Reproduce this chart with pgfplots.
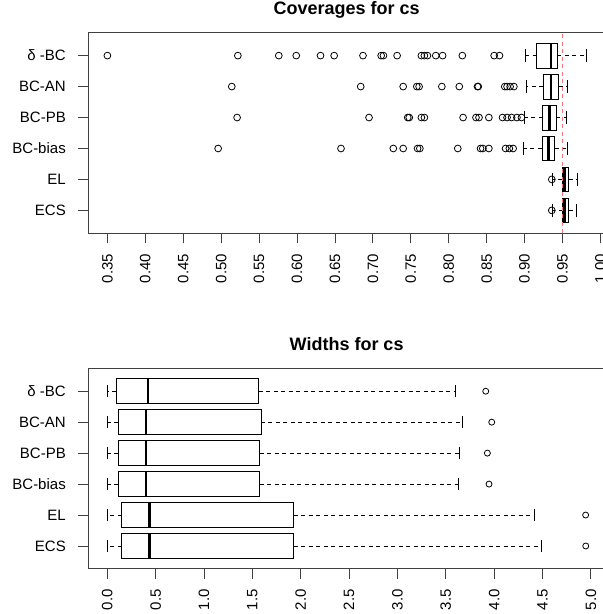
\documentclass[border=0pt]{standalone}
\usepackage{pgfplots}
\pgfplotsset{compat=1.18}
\usepgfplotslibrary{statistics}
\usepackage{fontspec}
\setmainfont{Liberation Sans}
\definecolor{ablinered}{RGB}{240,120,124}
\pgfplotsset{
  rbox/.style={
    black, solid, line width=0.8pt,
    boxplot/box extend=0.8,
    boxplot/whisker extend=0.4,
    boxplot/every median/.style={line width=2.6pt},
    boxplot/draw/lower whisker/.code={%
      \draw[dash pattern=on 4pt off 3.5pt] (boxplot cs:\pgfplotsboxplotvalue{lower quartile}) -- (boxplot cs:\pgfplotsboxplotvalue{lower whisker});
      \draw (boxplot whisker cs:\pgfplotsboxplotvalue{lower whisker},0) -- (boxplot whisker cs:\pgfplotsboxplotvalue{lower whisker},1);
    },
    boxplot/draw/upper whisker/.code={%
      \draw[dash pattern=on 4pt off 3.5pt] (boxplot cs:\pgfplotsboxplotvalue{upper quartile}) -- (boxplot cs:\pgfplotsboxplotvalue{upper whisker});
      \draw (boxplot whisker cs:\pgfplotsboxplotvalue{upper whisker},0) -- (boxplot whisker cs:\pgfplotsboxplotvalue{upper whisker},1);
    },
  },
  outl/.style={only marks, mark=o, black, mark size=3.4pt, mark options={line width=0.8pt}},
  rpanel/.style={
    scale only axis, width=516.6pt, height=200.6pt,
    anchor=north west,
    ymin=0.26, ymax=6.74,
    ytick={1,2,3,4,5,6},
    yticklabels={ECS, EL, BC-bias, BC-PB, BC-AN, {δ -BC}},
    tick align=outside, major tick length=10pt,
    xtick pos=bottom, ytick pos=left,
    axis line style={line width=0.9pt, black!75},
    tick style={line width=0.8pt, black!75},
    tick label style={font=\fontsize{15}{15}\selectfont},
    x tick label style={rotate=90, anchor=east},
    y tick label style={anchor=east},
    xticklabel shift=7pt,
    yticklabel shift=9pt,
    /pgf/number format/assume math mode=true,
    /pgf/number format/fixed, /pgf/number format/fixed zerofill,
    title style={font=\bfseries\fontsize{18}{18}\selectfont, at={(0.5,1)}, anchor=base, yshift=12.3pt},
  }
}
\begin{document}
\begin{tikzpicture}
\useasboundingbox (0,0) rectangle (603pt,-614pt);
% ---------------- top panel ----------------
\begin{axis}[rpanel, at={(88.3pt,-32.7pt)},
  title={Coverages for cs},
  xmin=0.3248, xmax=1.006,
  xtick={0.35,0.40,0.45,0.50,0.55,0.60,0.65,0.70,0.75,0.80,0.85,0.90,0.95,1.00},
  /pgf/number format/precision=2]
\addplot[rbox, boxplot prepared={draw position=6, lower whisker=0.901, lower quartile=0.916, median=0.935, upper quartile=0.943, upper whisker=0.982}] coordinates {};
\addplot[rbox, boxplot prepared={draw position=5, lower whisker=0.903, lower quartile=0.925, median=0.935, upper quartile=0.945, upper whisker=0.957}] coordinates {};
\addplot[rbox, boxplot prepared={draw position=4, lower whisker=0.900, lower quartile=0.924, median=0.933, upper quartile=0.942, upper whisker=0.955}] coordinates {};
\addplot[rbox, boxplot prepared={draw position=3, lower whisker=0.899, lower quartile=0.923, median=0.932, upper quartile=0.940, upper whisker=0.956}] coordinates {};
\addplot[rbox, boxplot prepared={draw position=2, lower whisker=0.937, lower quartile=0.950, median=0.9525, upper quartile=0.9585, upper whisker=0.970}] coordinates {};
\addplot[rbox, boxplot prepared={draw position=1, lower whisker=0.937, lower quartile=0.9505, median=0.953, upper quartile=0.9585, upper whisker=0.969}] coordinates {};
% outliers
\addplot[outl] coordinates {(0.350,6) (0.522,6) (0.576,6) (0.599,6) (0.631,6) (0.649,6) (0.687,6) (0.711,6) (0.714,6) (0.732,6) (0.764,6) (0.768,6) (0.772,6) (0.783,6) (0.792,6) (0.818,6) (0.860,6) (0.867,6)};
\addplot[outl] coordinates {(0.514,5) (0.684,5) (0.740,5) (0.758,5) (0.761,5) (0.791,5) (0.814,5) (0.838,5) (0.839,5) (0.874,5) (0.877,5) (0.881,5) (0.886,5)};
\addplot[outl] coordinates {(0.521,4) (0.695,4) (0.746,4) (0.748,4) (0.764,4) (0.768,4) (0.819,4) (0.836,4) (0.840,4) (0.853,4) (0.871,4) (0.877,4) (0.883,4) (0.890,4) (0.896,4)};
\addplot[outl] coordinates {(0.496,3) (0.658,3) (0.727,3) (0.740,3) (0.759,3) (0.762,3) (0.812,3) (0.842,3) (0.845,3) (0.853,3) (0.875,3) (0.880,3) (0.885,3)};
\addplot[outl] coordinates {(0.936,2)};
\addplot[outl] coordinates {(0.936,1)};
\addplot[ablinered, line width=1pt, dash pattern=on 4pt off 3.5pt] coordinates {(0.95,0.26) (0.95,6.74)};
\end{axis}
% ---------------- bottom panel ----------------
\begin{axis}[rpanel, at={(88.3pt,-368.3pt)},
  title={Widths for cs},
  xmin=-0.196, xmax=5.145,
  xtick={0,0.5,1,1.5,2,2.5,3,3.5,4,4.5,5},
  /pgf/number format/precision=1]
\addplot[rbox, boxplot prepared={draw position=6, lower whisker=0.0, lower quartile=0.095, median=0.423, upper quartile=1.564, upper whisker=3.596}] coordinates {};
\addplot[rbox, boxplot prepared={draw position=5, lower whisker=0.0, lower quartile=0.116, median=0.399, upper quartile=1.589, upper whisker=3.668}] coordinates {};
\addplot[rbox, boxplot prepared={draw position=4, lower whisker=0.0, lower quartile=0.114, median=0.399, upper quartile=1.575, upper whisker=3.637}] coordinates {};
\addplot[rbox, boxplot prepared={draw position=3, lower whisker=0.0, lower quartile=0.114, median=0.399, upper quartile=1.575, upper whisker=3.630}] coordinates {};
\addplot[rbox, boxplot prepared={draw position=2, lower whisker=0.0, lower quartile=0.150, median=0.434, upper quartile=1.926, upper whisker=4.420}] coordinates {};
\addplot[rbox, boxplot prepared={draw position=1, lower whisker=0.004, lower quartile=0.150, median=0.434, upper quartile=1.928, upper whisker=4.487}] coordinates {};
\addplot[outl, mark size=3pt] coordinates {(3.913,6) (3.975,5) (3.930,4) (3.947,3) (4.946,2) (4.947,1)};
\end{axis}
\end{tikzpicture}
\end{document}
